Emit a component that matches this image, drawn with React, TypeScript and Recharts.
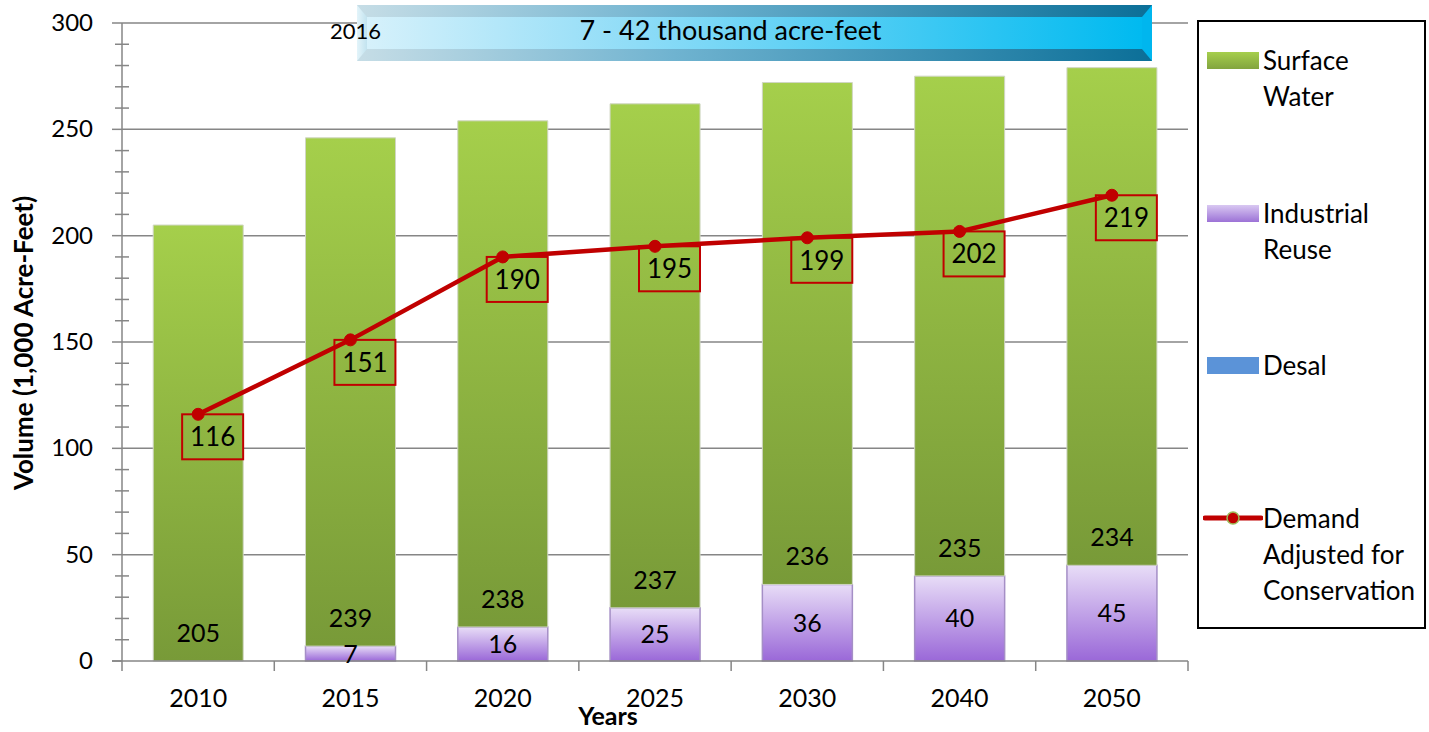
import React from 'react';
import { ComposedChart, Bar, Line, XAxis, YAxis, CartesianGrid, Legend, LabelList } from 'recharts';

const years = ['2010', '2015', '2020', '2025', '2030', '2040', '2050'];
const surfaceWater = [205, 239, 238, 237, 236, 235, 234];
const industrialReuse = [0, 7, 16, 25, 36, 40, 45];
const desal = [0, 0, 0, 0, 0, 0, 0];
const demand = [116, 151, 190, 195, 199, 202, 219];
const yTicks = [0, 10, 20, 30, 40, 50, 60, 70, 80, 90, 100, 110, 120, 130, 140, 150, 160, 170, 180, 190, 200, 210, 220, 230, 240, 250, 260, 270, 280, 290, 300];
const majorTicks = [50, 100, 150, 200, 250, 300];

const legendItems = [
  { key: 'surface', lines: ['Surface', 'Water'], kind: 'bar', color: 'url(#legGreen)' },
  { key: 'industrial', lines: ['Industrial', 'Reuse'], kind: 'bar', color: 'url(#legPurple)' },
  { key: 'desal', lines: ['Desal'], kind: 'bar', color: '#5B93D8' },
  { key: 'demand', lines: ['Demand', 'Adjusted for', 'Conservation'], kind: 'line', color: '#C00000' },
];

const data = years.map((year, i) => ({
  year,
  desal: desal[i],
  industrial: industrialReuse[i],
  surface: surfaceWater[i],
  demand: demand[i],
}));

const W = 1429;
const H = 732;
const FONT = 'Lato, "Open Sans", sans-serif';
const GRID = '#868686';
const PLOT_LEFT = 122;
const PLOT_RIGHT = 1188;
const LEGEND_W = 229;
const band = (PLOT_RIGHT - PLOT_LEFT) / years.length;

const YTick = (props: any) => {
  const { x, y, payload } = props;
  const major = payload.value % 50 === 0;
  return (
    <g>
      {major ? (
        <line x1={x - 10} x2={x} y1={y} y2={y} stroke={GRID} strokeWidth={1.5} />
      ) : (
        <line x1={x - 7} x2={x + 7} y1={y} y2={y} stroke={GRID} strokeWidth={1.5} />
      )}
      {major ? (
        <text x={x - 29} y={y} dy={8} textAnchor="end" fontSize={24} fill="#000" fontFamily={FONT}>
          {payload.value}
        </text>
      ) : null}
    </g>
  );
};

const XTick = (props: any) => {
  const { x, y, payload, index } = props;
  const left = x - band / 2;
  return (
    <g>
      <line x1={left} x2={left} y1={y} y2={y + 10} stroke={GRID} strokeWidth={1.5} />
      {index === 0 ? <line x1={left - 10} x2={left} y1={y} y2={y} stroke={GRID} strokeWidth={1.5} /> : null}
      {index === years.length - 1 ? (
        <line x1={x + band / 2} x2={x + band / 2} y1={y} y2={y + 10} stroke={GRID} strokeWidth={1.5} />
      ) : null}
      <text x={x} y={y + 46} textAnchor="middle" fontSize={25} fill="#000" fontFamily={FONT}>
        {payload.value}
      </text>
    </g>
  );
};

const SurfaceLabel = (props: any) => {
  const { x, y, width, height, value } = props;
  return (
    <text x={x + width / 2} y={y + height - 19} textAnchor="middle" fontSize={25} fill="#000" fontFamily={FONT}>
      {value}
    </text>
  );
};

const IndustrialLabel = (props: any) => {
  const { x, y, width, height, value } = props;
  if (!value) return null;
  return (
    <text x={x + width / 2} y={y + height / 2 + 9} textAnchor="middle" fontSize={25} fill="#000" fontFamily={FONT}>
      {value}
    </text>
  );
};

const DemandLabel = (props: any) => {
  const { x, y, value } = props;
  return (
    <g>
      <rect x={x - 16} y={y} width={61} height={45} fill="none" stroke="#C00000" strokeWidth={2} />
      <text x={x + 14.5} y={y + 32} textAnchor="middle" fontSize={26} fill="#000" fontFamily={FONT}>
        {value}
      </text>
    </g>
  );
};

const LegendBox = () => (
  <div
    style={{
      width: LEGEND_W,
      height: 609,
      border: '2px solid #000',
      boxSizing: 'border-box',
      background: '#fff',
      fontFamily: FONT,
      fontSize: 26,
      position: 'relative',
    }}
  >
    {legendItems.map((item, i) => (
      <div key={item.key} style={{ position: 'absolute', left: 0, top: 20 + i * 152.7, width: LEGEND_W }}>
        <svg width={60} height={36} style={{ position: 'absolute', left: 4, top: 0 }}>
          <defs>
            <linearGradient id="legGreen" x1="0" y1="0" x2="0" y2="1">
              <stop offset="0%" stopColor="#A6CF4D" />
              <stop offset="100%" stopColor="#82A43F" />
            </linearGradient>
            <linearGradient id="legPurple" x1="0" y1="0" x2="0" y2="1">
              <stop offset="0%" stopColor="#D9C8F2" />
              <stop offset="100%" stopColor="#9C72D6" />
            </linearGradient>
          </defs>
          {item.kind === 'bar' ? (
            <rect x={4} y={10} width={52} height={17} fill={item.color} />
          ) : (
            <g>
              <line x1={2} x2={58} y1={18} y2={18} stroke={item.color} strokeWidth={5} strokeLinecap="round" />
              <circle cx={30} cy={18} r={6} fill={item.color} stroke="#9BBB59" strokeWidth={1.5} />
            </g>
          )}
        </svg>
        <div style={{ position: 'absolute', left: 64, top: 0, lineHeight: '36px', whiteSpace: 'nowrap' }}>
          {item.lines.map((l) => (
            <div key={l}>{l}</div>
          ))}
        </div>
      </div>
    ))}
  </div>
);

const Banner = () => (
  <div style={{ position: 'absolute', left: 357, top: 5, width: 795, height: 56, fontFamily: FONT }}>
    <svg width={795} height={56} style={{ position: 'absolute', left: 0, top: 0 }}>
      <defs>
        <linearGradient id="banMain" x1="0" y1="0" x2="1" y2="0">
          <stop offset="0%" stopColor="#D6F1FB" />
          <stop offset="35%" stopColor="#8EDCF7" />
          <stop offset="100%" stopColor="#00BAF0" />
        </linearGradient>
        <linearGradient id="banEdge" x1="0" y1="0" x2="1" y2="0">
          <stop offset="0%" stopColor="#C6DDE6" />
          <stop offset="40%" stopColor="#6FB3D0" />
          <stop offset="100%" stopColor="#0B6F98" />
        </linearGradient>
        <linearGradient id="banSide" x1="0" y1="0" x2="1" y2="0">
          <stop offset="0%" stopColor="#E3F4FA" />
          <stop offset="100%" stopColor="#C2E3EF" />
        </linearGradient>
      </defs>
      <rect x={0} y={0} width={795} height={56} fill="url(#banEdge)" />
      <polygon points="0,0 10,12 10,44 0,56" fill="url(#banSide)" />
      <polygon points="795,0 785,12 785,44 795,56" fill="#00B6EE" />
      <rect x={10} y={12} width={775} height={32} fill="url(#banMain)" />
    </svg>
    <div style={{ position: 'absolute', left: -24, width: 795, top: 8, textAlign: 'center', fontSize: 27, color: '#000' }}>
      7 - 42 thousand acre-feet
    </div>
  </div>
);

const App = () => (
  <div style={{ position: 'absolute', left: 0, top: 0, width: W, height: H, background: '#fff' }}>
    <svg width={0} height={0} style={{ position: 'absolute' }}>
      <defs>
        <linearGradient id="gGreen" x1="0" y1="0" x2="0" y2="1">
          <stop offset="0%" stopColor="#A5CF4B" />
          <stop offset="100%" stopColor="#789A38" />
        </linearGradient>
        <linearGradient id="gPurple" x1="0" y1="0" x2="0" y2="1">
          <stop offset="0%" stopColor="#E8DDF7" />
          <stop offset="100%" stopColor="#9A68D8" />
        </linearGradient>
      </defs>
    </svg>
    <ComposedChart
      width={W}
      height={H}
      data={data}
      margin={{ top: 23, right: W - PLOT_RIGHT - LEGEND_W, bottom: 0, left: 0 }}
      barCategoryGap="20.5%"
      style={{ fontFamily: FONT }}
    >
      <CartesianGrid horizontal vertical={false} horizontalValues={majorTicks} stroke={GRID} strokeWidth={1.5} />
      <XAxis
        dataKey="year"
        height={71}
        tickLine={false}
        tickSize={0}
        tickMargin={0}
        axisLine={{ stroke: GRID, strokeWidth: 1.5 }}
        tick={<XTick />}
        interval={0}
        label={{
          content: () => (
            <text x={608} y={725} textAnchor="middle" fontSize={25} fontWeight="bold" fill="#000" fontFamily={FONT}>
              Years
            </text>
          ),
        }}
      />
      <YAxis
        width={PLOT_LEFT}
        domain={[0, 300]}
        ticks={yTicks}
        interval={0}
        tickLine={false}
        tickSize={0}
        tickMargin={0}
        axisLine={{ stroke: GRID, strokeWidth: 1.5 }}
        tick={<YTick />}
        label={{
          content: () => (
            <text
              x={33}
              y={343}
              transform="rotate(-90 33 343)"
              textAnchor="middle"
              fontSize={26}
              fontWeight="bold"
              fill="#000"
              fontFamily={FONT}
            >
              Volume (1,000 Acre-Feet)
            </text>
          ),
        }}
      />
      <Legend
        layout="vertical"
        verticalAlign="top"
        align="right"
        wrapperStyle={{ position: 'absolute', left: 1197, top: 20, width: LEGEND_W, height: 609 }}
        content={() => <LegendBox />}
      />
      <Bar dataKey="desal" name="Desal" stackId="a" fill="#5B93D8" isAnimationActive={false} />
      <Bar
        dataKey="industrial"
        name="Industrial Reuse"
        stackId="a"
        fill="url(#gPurple)"
        stroke="#A58FC6"
        strokeWidth={1.5}
        isAnimationActive={false}
      >
        <LabelList dataKey="industrial" content={<IndustrialLabel />} />
      </Bar>
      <Bar
        dataKey="surface"
        name="Surface Water"
        stackId="a"
        fill="url(#gGreen)"
        stroke="#D0D6C4"
        strokeWidth={1}
        isAnimationActive={false}
      >
        <LabelList dataKey="surface" content={<SurfaceLabel />} />
      </Bar>
      <Line
        dataKey="demand"
        name="Demand Adjusted for Conservation"
        type="linear"
        stroke="#C00000"
        strokeWidth={4.5}
        dot={{ r: 6, fill: '#C00000', stroke: '#C00000', strokeWidth: 1 }}
        activeDot={false}
        isAnimationActive={false}
      >
        <LabelList dataKey="demand" content={<DemandLabel />} />
      </Line>
    </ComposedChart>
    <Banner />
    <div style={{ position: 'absolute', left: 330, top: 17, fontSize: 22, fontFamily: FONT, color: '#000' }}>2016</div>
  </div>
);

export default App;
